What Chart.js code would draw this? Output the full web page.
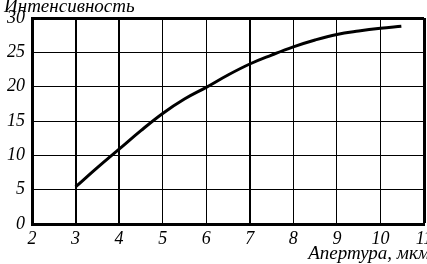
<!DOCTYPE html>
<html>
<head>
<meta charset="utf-8">
<script src="https://cdn.jsdelivr.net/npm/chart.js@4"></script>
<style>
  html, body { margin: 0; padding: 0; background: #fff; }
  #wrap { width: 427px; height: 264px; }
</style>
</head>
<body>
<div id="wrap"><canvas id="chart" width="427" height="264"></canvas></div>
<script>
// aperture (um) vs intensity
const aperture = [3, 3.5, 4, 4.5, 5, 5.5, 6, 6.5, 7, 7.5, 8, 8.5, 9, 9.5, 10, 10.48];
const intensity = [5.4, 8.2, 10.9, 13.6, 16.1, 18.2, 19.9, 21.7, 23.3, 24.6, 25.8, 26.8, 27.6, 28.1, 28.5, 28.8];
const xTicks = [2, 3, 4, 5, 6, 7, 8, 9, 10, 11];
const yTicks = [0, 5, 10, 15, 20, 25, 30];
const thickX = [3, 4, 7];

const tickFont = { family: '"Liberation Serif", serif', style: 'italic', size: 18 };

const titlesPlugin = {
  id: 'titles',
  afterDraw(chart) {
    const ctx = chart.ctx;
    ctx.save();
    ctx.fillStyle = '#000';
    ctx.font = 'italic 19px "Liberation Serif"';
    ctx.textBaseline = 'alphabetic';
    ctx.textAlign = 'left';
    ctx.fillText('Интенсивность', 4, 12);
    ctx.textAlign = 'right';
    ctx.fillText('Апертура, мкм', 430, 259);
    ctx.restore();
  }
};

new Chart(document.getElementById('chart'), {
  type: 'scatter',
  data: {
    datasets: [{
      data: aperture.map((x, i) => ({ x: x, y: intensity[i] })),
      showLine: true,
      borderColor: '#000',
      borderWidth: 3,
      pointRadius: 0,
      tension: 0.4,
      fill: false
    }]
  },
  options: {
    responsive: false,
    animation: false,
    layout: { padding: { top: 18, right: 3, left: 0, bottom: 0 } },
    plugins: { legend: { display: false }, tooltip: { enabled: false } },
    scales: {
      x: {
        type: 'linear', min: 2, max: 11,
        afterBuildTicks(scale) { scale.ticks = xTicks.map(v => ({ value: v })); },
        afterFit(scale) {
          scale.height = 40;
          scale.paddingRight = 0;
          scale.paddingLeft = 0;
        },
        border: { color: '#000', width: 3 },
        grid: {
          color: '#000',
          drawTicks: false,
          lineWidth: c => (c.tick && thickX.includes(c.tick.value)) ? 2 : (c.tick && c.tick.value === 11 ? 3 : 1)
        },
        ticks: { color: '#000', font: tickFont, padding: 4, maxRotation: 0 }
      },
      y: {
        min: 0, max: 30,
        afterBuildTicks(scale) { scale.ticks = yTicks.map(v => ({ value: v })); },
        afterFit(scale) {
          scale.width = 32;
          scale.paddingTop = 0;
          scale.paddingBottom = 0;
        },
        border: { color: '#000', width: 3 },
        grid: {
          color: '#000',
          drawTicks: false,
          lineWidth: c => (c.tick && c.tick.value === 30) ? 3 : 1
        },
        ticks: { color: '#000', font: tickFont, padding: 7 }
      }
    }
  },
  plugins: [titlesPlugin]
});
</script>
</body>
</html>
